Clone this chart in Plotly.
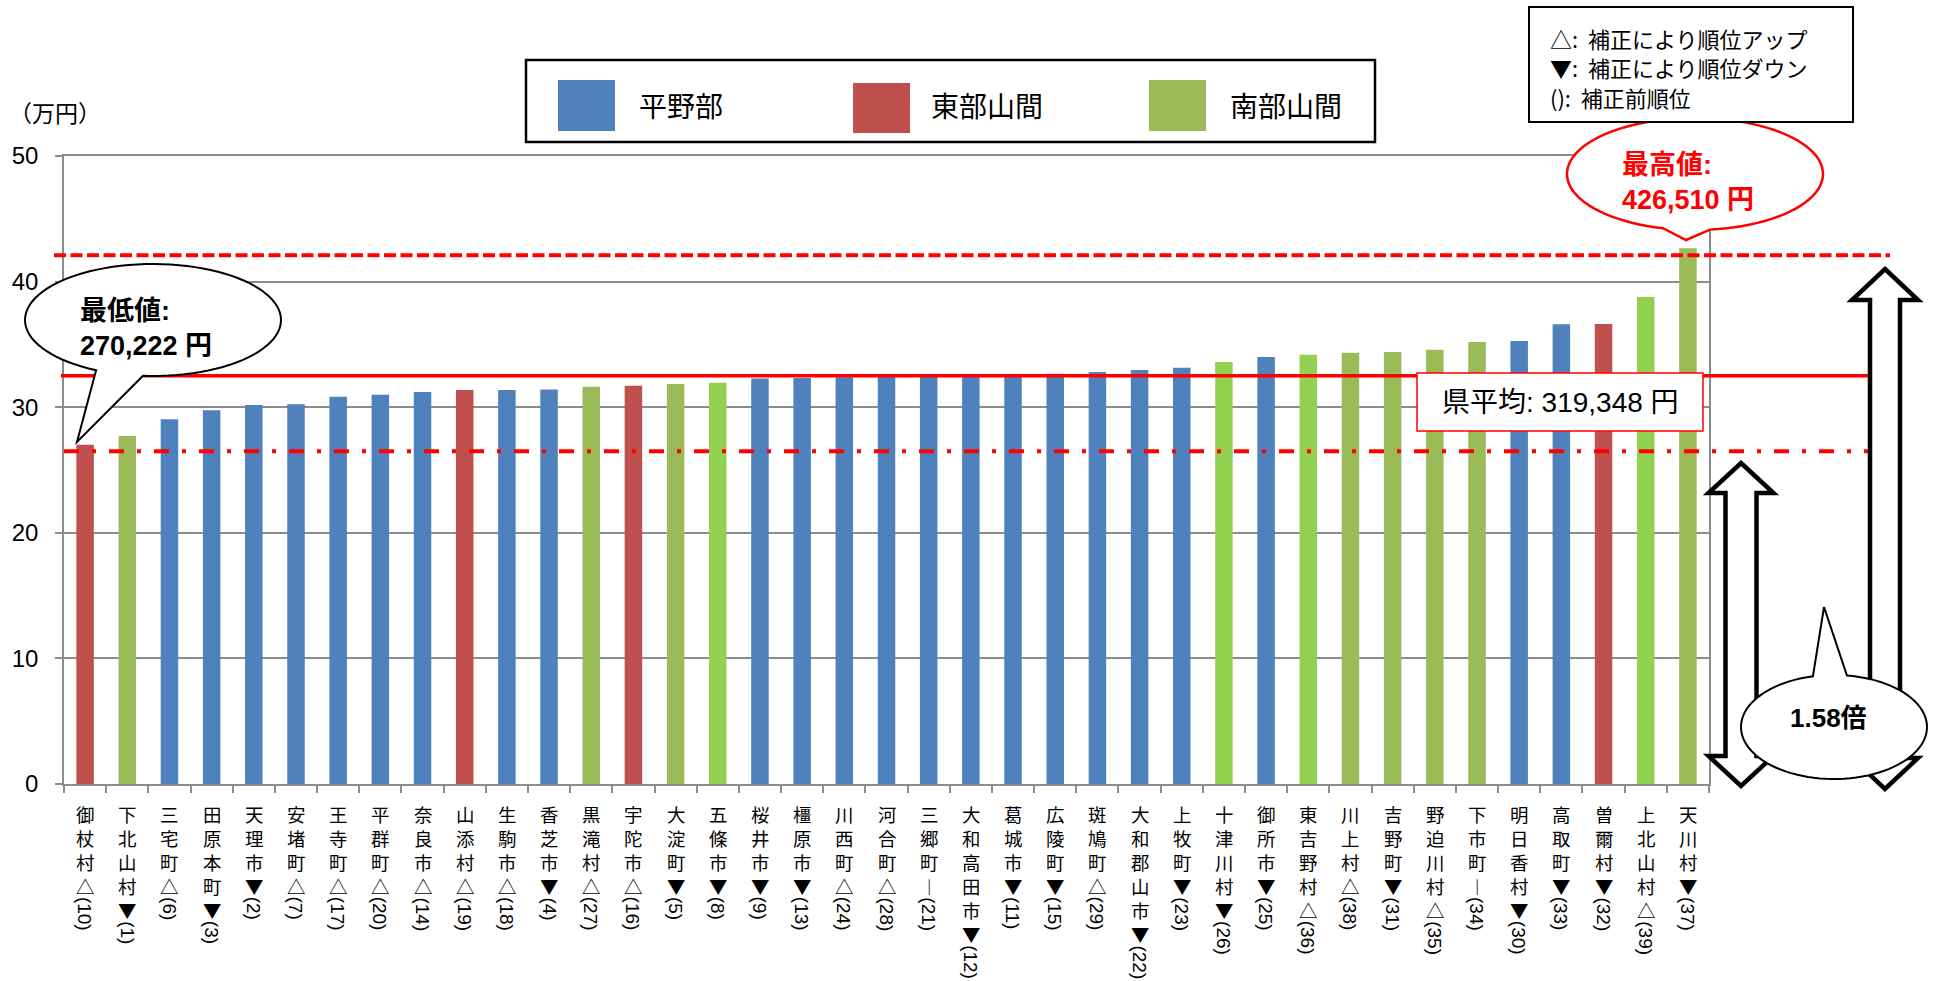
import math
import plotly.graph_objects as go

# ---------------- data ----------------
municipalities = ['御杖村', '下北山村', '三宅町', '田原本町', '天理市', '安堵町', '王寺町', '平群町',
                  '奈良市', '山添村', '生駒市', '香芝市', '黒滝村', '宇陀市', '大淀町', '五條市',
                  '桜井市', '橿原市', '川西町', '河合町', '三郷町', '大和高田市', '葛城市', '広陵町',
                  '斑鳩町', '大和郡山市', '上牧町', '十津川村', '御所市', '東吉野村', '川上村', '吉野町',
                  '野迫川村', '下市町', '明日香村', '高取町', '曽爾村', '上北山村', '天川村']
rank_marks = ['△', '▼', '△', '▼', '▼', '△', '△', '△', '△', '△', '△', '▼', '△', '△', '▼', '▼',
              '▼', '▼', '△', '△', '︱', '▼', '▼', '▼', '△', '▼', '▼', '▼', '▼', '△', '△', '▼',
              '△', '︱', '▼', '▼', '▼', '△', '▼']
prev_ranks = [10, 1, 6, 3, 2, 7, 17, 20, 14, 19, 18, 4, 27, 16, 5, 8, 9, 13, 24, 28, 21, 12, 11, 15,
              29, 22, 23, 26, 25, 36, 38, 31, 35, 34, 30, 33, 32, 39, 37]
income_man_yen = [27.02, 27.70, 29.04, 29.76, 30.18, 30.24, 30.84, 31.00, 31.22, 31.36, 31.37, 31.40,
                  31.62, 31.70, 31.85, 31.94, 32.28, 32.33, 32.38, 32.42, 32.46, 32.50, 32.65, 32.67,
                  32.80, 32.97, 33.15, 33.60, 34.00, 34.17, 34.33, 34.40, 34.57, 35.20, 35.28, 36.60,
                  36.63, 38.78, 42.65]
region = ['東部山間', '南部山間', '平野部', '平野部', '平野部', '平野部', '平野部', '平野部',
          '平野部', '東部山間', '平野部', '平野部', '南部山間', '東部山間', '南部山間', '南部山間',
          '平野部', '平野部', '平野部', '平野部', '平野部', '平野部', '平野部', '平野部',
          '平野部', '平野部', '平野部', '南部山間', '平野部', '南部山間', '南部山間', '南部山間',
          '南部山間', '南部山間', '平野部', '平野部', '東部山間', '南部山間', '南部山間']
region_order = ['平野部', '東部山間', '南部山間']
y_ticks = [0, 10, 20, 30, 40, 50]
line_max = 42.1     # dashed line
line_avg = 32.5     # solid line (県平均)
line_min = 26.5     # dash-dot line
label_min = '最低値:<br>270,222 円'
label_max = '最高値:<br>426,510 円'
label_avg = '県平均: 319,348 円'
label_ratio = '1.58倍'
notes = ['△: 補正により順位アップ', '▼: 補正により順位ダウン', '(): 補正前順位']

# ---------------- style ----------------
REGION_COLORS = {'平野部': '#4F81BD', '東部山間': '#C0504D', '南部山間': '#9BBB59'}
BRIGHT_GREEN = '#92D050'
BRIGHT_SET = {'五條市', '十津川村', '東吉野村', '上北山村'}
GRID = '#8C8C8C'
JP = 'Noto Sans CJK JP'
LAT = 'Liberation Sans, Noto Sans CJK JP'

FIG_W, FIG_H = 1936, 981
L, T, R, B = 64, 156, 1709, 784
W, H = R - L, B - T


def px(x):
    return (x - L) / W


def py(y):
    return (B - y) / H


def path(points, close=True):
    s = 'M ' + ' L '.join(f'{px(x):.5f},{py(y):.5f}' for x, y in points)
    return s + (' Z' if close else '')


def bubble(cx, cy, rx, ry, a_start, a_end, tip, n=90):
    pts = []
    for k in range(n + 1):
        a = math.radians(a_start + (a_end - a_start) * k / n)
        pts.append((cx + rx * math.cos(a), cy + ry * math.sin(a)))
    pts.append(tip)
    return path(pts)


def double_arrow(cx, top, bot, head_h, head_w, shaft_w):
    hw, sw = head_w / 2, shaft_w / 2
    return path([(cx, top), (cx + hw, top + head_h), (cx + sw, top + head_h),
                 (cx + sw, bot - head_h), (cx + hw, bot - head_h), (cx, bot),
                 (cx - hw, bot - head_h), (cx - sw, bot - head_h), (cx - sw, top + head_h),
                 (cx - hw, top + head_h)])


fig = go.Figure()
for reg in region_order:
    idx = [i for i, r in enumerate(region) if r == reg]
    colors = [BRIGHT_GREEN if municipalities[i] in BRIGHT_SET else REGION_COLORS[reg] for i in idx]
    fig.add_trace(go.Bar(
        x=[municipalities[i] for i in idx],
        y=[income_man_yen[i] for i in idx],
        name=reg, width=0.415, showlegend=False,
        marker=dict(color=colors, line=dict(width=0)),
    ))

shapes = []
# reference lines
shapes.append(dict(type='line', xref='paper', yref='y', x0=px(54), x1=px(1890), y0=line_max, y1=line_max,
                   line=dict(color='#FF0000', width=4, dash='12px,4.5px'), layer='above'))
shapes.append(dict(type='line', xref='paper', yref='y', x0=px(61), x1=px(1870), y0=line_avg, y1=line_avg,
                   line=dict(color='#FF0000', width=3.5), layer='above'))
shapes.append(dict(type='line', xref='paper', yref='y', x0=px(64), x1=px(1869), y0=line_min, y1=line_min,
                   line=dict(color='#FF0000', width=4, dash='15px,13px,4px,13px'), layer='above'))
# average label box
shapes.append(dict(type='rect', xref='paper', yref='paper', x0=px(1417), x1=px(1703), y0=py(431), y1=py(373),
                   line=dict(color='#FF0000', width=1.5), fillcolor='white', layer='above'))
# double arrows
shapes.append(dict(type='path', xref='paper', yref='paper', path=double_arrow(1741, 463, 786, 30, 65, 31),
                   line=dict(color='black', width=4.5), fillcolor='white', layer='above'))
shapes.append(dict(type='path', xref='paper', yref='paper', path=double_arrow(1885, 269, 789, 31, 66, 30),
                   line=dict(color='black', width=4.5), fillcolor='white', layer='above'))
# callout bubbles
shapes.append(dict(type='path', xref='paper', yref='paper',
                   path=bubble(153, 320, 128, 56, 116.4, 454.5, (77, 442)),
                   line=dict(color='black', width=2), fillcolor='white', layer='above'))
shapes.append(dict(type='path', xref='paper', yref='paper',
                   path=bubble(1695, 174, 128, 56, 104.5, 443.3, (1686, 240)),
                   line=dict(color='#FF0000', width=2.5), fillcolor='white', layer='above'))
shapes.append(dict(type='path', xref='paper', yref='paper',
                   path=bubble(1834, 727, 93, 52, 278.0, 616.9, (1824, 607)),
                   line=dict(color='black', width=2), fillcolor='white', layer='above'))
# legend box
shapes.append(dict(type='rect', xref='paper', yref='paper', x0=px(526), x1=px(1375), y0=py(142), y1=py(60),
                   line=dict(color='black', width=2.5), fillcolor='white', layer='above'))
legend_items = [(558, 80, 131, 637), (853, 83, 133, 929), (1149, 80, 131, 1228)]
annotations = []
for reg, (sx, sy0, sy1, tx) in zip(region_order, legend_items):
    shapes.append(dict(type='rect', xref='paper', yref='paper', x0=px(sx), x1=px(sx + 57), y0=py(sy1), y1=py(sy0),
                       line=dict(width=0), fillcolor=REGION_COLORS[reg], layer='above'))
    annotations.append(dict(xref='paper', yref='paper', x=px(tx), y=py(105), text=reg, showarrow=False,
                            xanchor='left', yanchor='middle', font=dict(family=JP, size=28, color='black')))
# note box
shapes.append(dict(type='rect', xref='paper', yref='paper', x0=px(1529), x1=px(1853), y0=py(122), y1=py(7),
                   line=dict(color='black', width=2), fillcolor='white', layer='above'))
for k, t in enumerate(notes):
    annotations.append(dict(xref='paper', yref='paper', x=px(1548), y=py(38 + 29.5 * k),
                            text=t.replace(': ', ':&nbsp;&nbsp;'), showarrow=False,
                            xanchor='left', yanchor='middle', font=dict(family=JP, size=22, color='black')))

# callout texts
annotations.append(dict(xref='paper', yref='paper', x=px(78), y=py(328), text=f'<b>{label_min}</b>',
                        showarrow=False, xanchor='left', yanchor='middle', align='left',
                        font=dict(family=LAT, size=27, color='black')))
annotations.append(dict(xref='paper', yref='paper', x=px(1620), y=py(182), text=f'<b>{label_max}</b>',
                        showarrow=False, xanchor='left', yanchor='middle', align='left',
                        font=dict(family=LAT, size=27, color='#FF0000')))
annotations.append(dict(xref='paper', yref='paper', x=px(1560), y=py(402), text=label_avg,
                        showarrow=False, xanchor='center', yanchor='middle',
                        font=dict(family=LAT, size=28, color='black')))
annotations.append(dict(xref='paper', yref='paper', x=px(1828), y=py(718), text=f'<b>{label_ratio}</b>',
                        showarrow=False, xanchor='center', yanchor='middle',
                        font=dict(family=LAT, size=26, color='black')))
annotations.append(dict(xref='paper', yref='paper', x=px(55), y=py(112), text='（万円）',
                        showarrow=False, xanchor='center', yanchor='middle',
                        font=dict(family=JP, size=23, color='black')))

# category labels (vertical writing)
STEP = 24
LBL_SIZE = STEP / 1.3
for name, mark, rank in zip(municipalities, rank_marks, prev_ranks):
    chars = list(name) + [mark]
    annotations.append(dict(xref='x', yref='y', x=name, y=0, text='<br>'.join(chars), showarrow=False,
                            xanchor='center', yanchor='top', yshift=-16, borderpad=0,
                            font=dict(family=JP, size=LBL_SIZE, color='black')))
    annotations.append(dict(xref='x', yref='y', x=name, y=0, text=f'({rank})', showarrow=False,
                            textangle=90, xanchor='center', yanchor='top', borderpad=0,
                            yshift=-(29 + STEP * (len(chars) - 1) + 11),
                            font=dict(family=LAT, size=19, color='black')))

fig.update_layout(
    width=FIG_W, height=FIG_H,
    margin=dict(l=L, r=FIG_W - R, t=T, b=FIG_H - B, pad=0),
    paper_bgcolor='white', plot_bgcolor='white',
    barmode='overlay', showlegend=False,
    shapes=shapes, annotations=annotations,
    xaxis=dict(type='category', categoryorder='array', categoryarray=municipalities,
               range=[-0.5, len(municipalities) - 0.5], showticklabels=False,
               ticks='outside', tickson='boundaries', ticklen=7, tickcolor=GRID, tickwidth=1.5,
               showline=True, linecolor=GRID, linewidth=1.5, mirror=True, showgrid=False, zeroline=False),
    yaxis=dict(range=[0, 50], tickvals=y_ticks, ticks='outside', ticklen=7, tickcolor=GRID, tickwidth=1.5,
               showline=True, linecolor=GRID, linewidth=1.5, mirror=True,
               showgrid=True, gridcolor=GRID, gridwidth=1.5, zeroline=False,
               ticklabelstandoff=12, tickfont=dict(family=LAT, size=24, color='black')),
)

fig.write_html('out.html', config={'displayModeBar': False},
               post_script="document.body.style.margin='0px';document.body.style.overflow='hidden';")
